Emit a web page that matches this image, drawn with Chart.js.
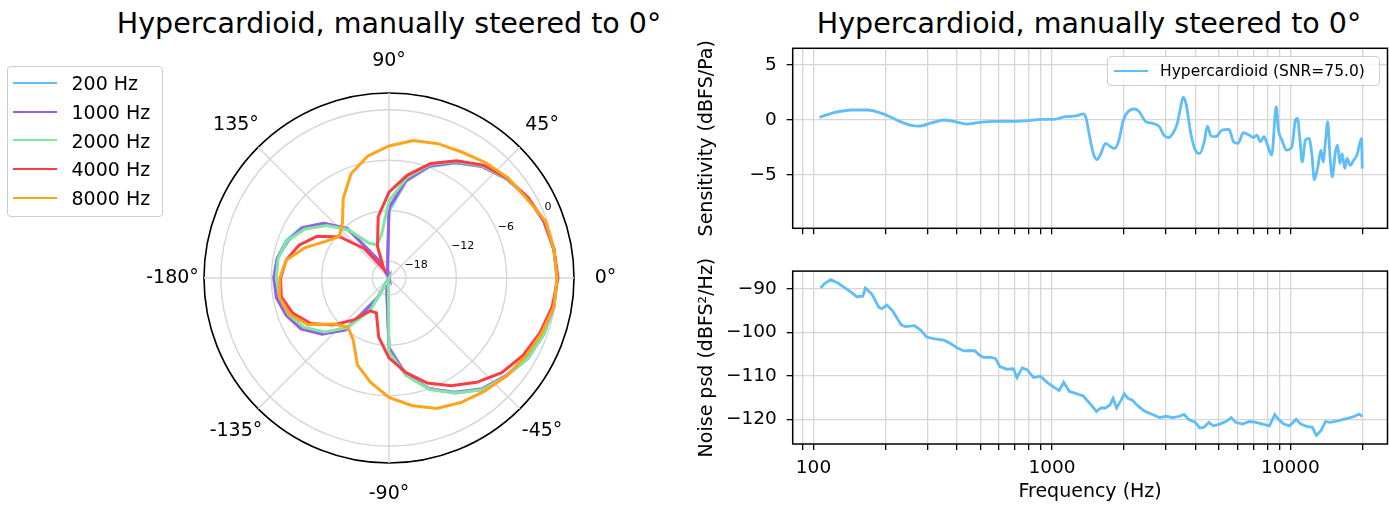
<!DOCTYPE html>
<html>
<head>
<meta charset="utf-8">
<script src="https://cdn.jsdelivr.net/npm/chart.js@4.4.1/dist/chart.umd.min.js"></script>
<style>
  body { margin: 0; background: #fff; font-family: 'DejaVu Sans', sans-serif; }
  #page { position: relative; width: 1389px; height: 505px; overflow: hidden; }
  canvas { position: absolute; }
  .title { position: absolute; top: 7px; font-size: 28.5px; line-height: 34px; white-space: nowrap; transform: translateX(-50%); color: #000; }
  .legend { position: absolute; background: rgba(255,255,255,0.8); border: 1px solid #cccccc; border-radius: 4px; box-sizing: border-box; z-index: 2; }
  .legend .swatch { position: absolute; height: 0; border-top-style: solid; }
  .legend .text { position: absolute; white-space: nowrap; color: #000; }
</style>
</head>
<body>
<div id="page">
  <div class="title" style="left:389px">Hypercardioid, manually steered to 0°</div>
  <div class="title" style="left:1089px">Hypercardioid, manually steered to 0°</div>
  <canvas id="polar" width="690" height="505" style="left:0;top:0"></canvas>
  <canvas id="sens" width="699" height="250" style="left:690px;top:0"></canvas>
  <canvas id="noise" width="699" height="255" style="left:690px;top:250px"></canvas>
  <div id="polarLegend" class="legend" style="left:7px;top:66px;width:156px;height:151px"></div>
  <div id="sensLegend" class="legend" style="left:1107px;top:56px;width:273px;height:30px"></div>
</div>
<script>
// ---- polar response, dB, at angles 0..350 deg (counter-clockwise) ----
const polarAngles = [0,10,20,30,40,50,60,70,80,90,100,110,120,130,140,150,160,170,
                     180,190,200,210,220,230,240,250,260,270,280,290,300,310,320,330,340,350];
const freqLabels = ['200 Hz', '1000 Hz', '2000 Hz', '4000 Hz', '8000 Hz'];
const freqColors = ['#5fbdf7', '#9b5de5', '#80e6a0', '#fa3c46', '#ffa31a'];

const gain200  = [0.0,-0.1,-0.4,-0.9,-1.7,-2.7,-4.2,-5.9,-8.3,-12.0,-18.8,-20,-17.8,-12.6,-9.9,-8.0,-7.0,-6.5,
                  -6.3,-6.5,-7.0,-8.0,-9.8,-12.3,-17.5,-20,-18.5,-11.8,-8.3,-5.9,-4.2,-2.7,-1.8,-0.9,-0.4,-0.1];
const gain1000 = [0.0,-0.1,-0.4,-0.9,-1.7,-2.7,-4.1,-5.8,-8.2,-11.6,-19.0,-20,-17.5,-12.3,-9.9,-8.1,-7.2,-6.5,
                  -6.3,-6.4,-7.0,-7.9,-9.6,-11.9,-17.0,-20,-18.5,-11.6,-8.3,-6.0,-4.3,-2.8,-1.9,-1.0,-0.45,-0.1];
const gain2000 = [0.0,-0.1,-0.35,-0.9,-1.7,-2.6,-4.0,-5.6,-7.9,-10.8,-14.8,-15.8,-15.2,-12.5,-10.3,-8.4,-7.1,-6.6,
                  -6.6,-6.8,-7.3,-8.3,-10.0,-12.3,-15.5,-20,-19.5,-11.2,-8.2,-5.9,-4.2,-2.7,-1.8,-0.95,-0.4,-0.1];
const gain4000 = [0.1,-0.1,-0.35,-0.9,-1.6,-2.5,-3.9,-5.5,-7.6,-9.8,-12.6,-16.0,-18.8,-15.4,-12.4,-10.1,-8.6,-7.6,
                  -7.1,-7.0,-7.8,-9.2,-11.3,-13.5,-15.5,-15.6,-12.9,-10.5,-8.6,-6.7,-5.2,-3.8,-2.5,-1.6,-0.9,-0.3];
const gain8000 = [0.0,-0.1,-0.2,-1.1,-1.5,-2.1,-2.7,-3.0,-3.4,-4.3,-5.3,-6.8,-9.1,-11.4,-12.3,-11.3,-9.4,-7.6,
                  -7.0,-6.8,-7.4,-8.9,-11.5,-12.4,-11.5,-9.0,-7.4,-5.8,-4.6,-3.5,-2.9,-2.4,-1.8,-1.3,-0.7,-0.1];
const polarSeries = [gain200, gain1000, gain2000, gain4000, gain8000];

const rTicks = [-18, -12, -6, 0];
const angleTicks = [0, 45, 90, 135, 180, 225, 270, 315];
const angleTickText = ['0°', '45°', '90°', '135°', '-180°', '-135°', '-90°', '-45°'];

// ---- sensitivity vs frequency ----
const sensFreq = [106,122,145,168,196,223,254,277,315,352,392,437,487,579,689,819,893,1018,1135,1265,
                  1350,1390,1439,1490,1543,1603,1675,1750,1828,1909,1993,2128,2223,2319,2475,2641,2820,2944,3075,3212,
                  3353,3456,3548,3657,3820,3990,4166,4350,4484,4644,4850,5176,5525,5769,6025,6346,6709,7008,7227,7483,
                  7747,7988,8343,8714,8899,9212,9622,10135,10491,10686,10963,11200,11546,11950,12310,12580,13020,13420,13710,14020,
                  14330,14650,14970,15430,15770,16110,16470,16890,17270,17800,18400,18990,19860,20000];
const sensDb = [0.24,0.67,0.91,0.91,0.55,0.0,-0.46,-0.55,-0.24,0.0,-0.15,-0.37,-0.24,-0.12,-0.12,-0.03,0.06,0.06,0.3,0.37,
                0.55,0.15,-1.52,-3.05,-3.6,-3.05,-2.13,-2.38,-2.6,-1.83,0.0,0.91,1.0,0.76,-0.15,-0.3,-0.61,-1.37,-1.59,-1.22,
                -0.3,1.07,2.07,1.37,-1.22,-2.74,-3.05,-1.98,-0.55,-1.46,-1.52,-0.91,-0.85,-1.98,-2.13,-1.16,-1.37,-1.59,-1.37,-1.98,
                -1.52,-2.2,-3.2,1.22,-0.91,-1.83,-2.74,-2.44,0.0,0.15,-1.83,-3.81,-1.83,-1.68,-3.2,-5.43,-4.27,-2.74,-3.81,-1.98,
                -0.15,-3.35,-5.18,-2.9,-2.29,-3.96,-3.05,-4.42,-3.5,-4.12,-3.66,-3.2,-1.68,-4.42];

// ---- noise psd vs frequency ----
const noiseFreq = [107,111,118,127,136,145,152,161,165,176,188,194,203,214,233,243,265,283,298,322,
                   352,375,401,428,456,476,497,520,550,579,605,646,689,713,751,785,838,894,954,1018,
                   1072,1119,1183,1264,1349,1439,1536,1603,1675,1750,1804,1866,1950,2010,2080,2173,2270,2423,2530,2642,
                   2820,3009,3213,3428,3580,3737,3990,4168,4350,4540,4742,5060,5404,5641,5890,6294,6717,7165,7645,8160,
                   8600,8895,9370,9910,10570,11040,11800,12320,12850,13420,14030,14650,15640,16690,17800,18580,19400,20000];
const noiseDb = [-89.85,-88.9,-87.9,-88.75,-89.85,-90.96,-91.84,-91.7,-89.85,-91.3,-94.3,-94.6,-93.75,-95.0,-98.3,-98.7,-98.5,-99.6,-101.1,-101.5,
                 -101.8,-102.6,-103.6,-104.3,-104.2,-104.3,-105.3,-105.8,-105.7,-106.0,-107.9,-108.5,-108.4,-110.4,-108.2,-108.6,-110.4,-110.1,-111.5,-112.6,
                 -113.4,-111.5,-113.6,-114.1,-114.6,-116.3,-118.2,-117.4,-117.4,-116.7,-115.2,-117.4,-115.6,-114.1,-115.2,-115.6,-116.7,-118.0,-118.5,-118.9,
                 -119.6,-119.3,-119.6,-119.3,-118.9,-120.0,-120.7,-122.0,-121.8,-120.7,-121.5,-121.1,-120.4,-119.6,-120.7,-121.1,-120.5,-120.7,-121.1,-121.5,
                 -118.9,-120.0,-121.1,-121.5,-120.0,-121.1,-121.7,-121.8,-123.7,-122.6,-120.5,-120.7,-120.4,-120.0,-119.6,-119.3,-118.8,-119.3];

const freqTicks = [90,100,200,300,400,500,600,700,800,900,1000,2000,3000,4000,5000,6000,7000,8000,9000,10000,20000];
const freqLabelTicks = [100, 1000, 10000];
const sensTicks = [-5, 0, 5];
const noiseTicks = [-120, -110, -100, -90];
const lineColor = '#5fbdf7';

Chart.defaults.font.family = "'DejaVu Sans', sans-serif";
Chart.defaults.color = '#000';
Chart.defaults.animation = false;
Chart.defaults.events = [];

const gridColor = '#d6d6d6';
const fmt = v => (v < 0 ? '\u2212' + Math.abs(v) : String(v));

// radar labels every 5 deg, going clockwise from east (matplotlib angle = -index*5)
const labelStep = 5;
const radarLabels = [];
for (let i = 0; i < 360 / labelStep; i++) radarLabels.push((360 - i * labelStep) % 360);
function toRadar(values) {
  return radarLabels.map(a => {
    const k = polarAngles.indexOf(a);
    return k >= 0 ? values[k] : null;
  });
}

const polarText = {
  id: 'polarText',
  afterDraw(chart) {
    const s = chart.scales.r;
    const ctx = chart.ctx;
    ctx.save();
    ctx.fillStyle = '#000';
    ctx.font = "19px 'DejaVu Sans'";
    ctx.textAlign = 'center';
    ctx.textBaseline = 'middle';
    angleTicks.forEach((a, k) => {
      const p = s.getPointPosition(radarLabels.indexOf(a), s.drawingArea * 1.17);
      ctx.fillText(angleTickText[k], p.x, p.y);
    });
    ctx.font = "11px 'DejaVu Sans'";
    ctx.textAlign = 'left';
    const rad = 22.5 * Math.PI / 180;
    rTicks.forEach(v => {
      const d = s.getDistanceFromCenterForValue(v);
      ctx.fillText(fmt(v), s.xCenter + d * Math.cos(rad), s.yCenter - d * Math.sin(rad) - 6);
    });
    ctx.restore();
  }
};

const frame = {
  id: 'frame',
  afterDatasetsDraw(chart) {
    const {ctx, chartArea: a} = chart;
    ctx.save();
    ctx.strokeStyle = '#000';
    ctx.lineWidth = 1.5;
    ctx.strokeRect(a.left, a.top, a.right - a.left, a.bottom - a.top);
    ctx.restore();
  }
};

function htmlLegend(el, chart, opts) {
  chart.data.datasets.forEach((ds, i) => {
    const y = opts.first + i * opts.step;
    const sw = document.createElement('div');
    sw.className = 'swatch';
    sw.style.left = opts.swLeft + 'px';
    sw.style.width = opts.swWidth + 'px';
    sw.style.top = (y - 1.4) + 'px';
    sw.style.borderTopWidth = '2.8px';
    sw.style.borderTopColor = ds.borderColor;
    const tx = document.createElement('div');
    tx.className = 'text';
    tx.style.left = opts.textLeft + 'px';
    tx.style.fontSize = opts.font + 'px';
    tx.style.lineHeight = '24px';
    tx.style.top = (y - 12) + 'px';
    tx.textContent = ds.label;
    el.appendChild(sw);
    el.appendChild(tx);
  });
}

const polarChart = new Chart(document.getElementById('polar'), {
  type: 'radar',
  data: {
    labels: radarLabels,
    datasets: freqLabels.map((label, i) => ({
      label: label,
      data: toRadar(polarSeries[i]),
      borderColor: freqColors[i],
      backgroundColor: 'transparent',
      borderWidth: 3,
      fill: false,
      spanGaps: true,
      order: freqLabels.length - i
    }))
  },
  options: {
    responsive: false,
    layout: { padding: { left: 203.5, right: 114.5, top: 93, bottom: 40.5 } },
    elements: { point: { radius: 0 }, line: { tension: 0 } },
    plugins: { legend: { display: false }, tooltip: { enabled: false } },
    scales: {
      r: {
        min: -20,
        max: 2,
        startAngle: 90,
        afterBuildTicks: s => { s.ticks = [-20, ...rTicks, 2].map(v => ({ value: v })); },
        ticks: { display: false },
        pointLabels: { display: false },
        grid: {
          circular: true,
          color: c => c.tick.value === 2 ? '#000' : (c.tick.value === -20 ? 'rgba(0,0,0,0)' : gridColor),
          lineWidth: c => c.tick.value === 2 ? 1.6 : 1.4
        },
        angleLines: {
          color: gridColor,
          lineWidth: c => (c.index * labelStep) % 45 === 0 ? 1.4 : 0
        }
      }
    }
  },
  plugins: [polarText]
});

function freqAxis(showLabels, height) {
  return {
    type: 'logarithmic',
    min: 81.8,
    max: 25520,
    afterBuildTicks: s => { s.ticks = freqTicks.map(v => ({ value: v })); },
    afterFit: s => { s.height = height; },
    ticks: {
      display: showLabels,
      autoSkip: false,
      maxRotation: 0,
      padding: 7,
      font: { size: 18.5 },
      callback: v => freqLabelTicks.includes(v) ? String(v) : ''
    },
    grid: { color: gridColor, lineWidth: 1.3, tickColor: '#000', tickLength: 6, tickWidth: 1.3 },
    border: { display: false },
    title: showLabels ? { display: true, text: 'Frequency (Hz)', font: { size: 19 }, padding: { top: 0, bottom: 2 } } : { display: false }
  };
}

function valueAxis(min, max, ticks, title) {
  return {
    min: min,
    max: max,
    afterBuildTicks: s => { s.ticks = ticks.map(v => ({ value: v })); },
    afterFit: s => { s.width = 102.7; },
    ticks: { padding: 10, font: { size: 18.5 }, callback: fmt },
    grid: { color: gridColor, lineWidth: 1.3, tickColor: '#000', tickLength: 6, tickWidth: 1.3 },
    border: { display: false },
    title: { display: true, text: title, font: { size: 19 }, padding: { top: 5.6, bottom: 0 } }
  };
}

const sensChart = new Chart(document.getElementById('sens'), {
  type: 'line',
  data: {
    datasets: [{
      label: 'Hypercardioid (SNR=75.0)',
      data: sensFreq.map((f, i) => ({ x: f, y: sensDb[i] })),
      borderColor: lineColor,
      borderWidth: 2.8,
      pointRadius: 0,
      cubicInterpolationMode: 'monotone'
    }]
  },
  options: {
    responsive: false,
    layout: { padding: { top: 48.3, right: 1.5, left: 0, bottom: 0 } },
    plugins: { legend: { display: false }, tooltip: { enabled: false } },
    scales: {
      x: freqAxis(false, 21.7),
      y: valueAxis(-9.85, 6.52, sensTicks, 'Sensitivity (dBFS/Pa)')
    }
  },
  plugins: [frame]
});

const noiseChart = new Chart(document.getElementById('noise'), {
  type: 'line',
  data: {
    datasets: [{
      label: 'Noise psd',
      data: noiseFreq.map((f, i) => ({ x: f, y: noiseDb[i] })),
      borderColor: lineColor,
      borderWidth: 2.8,
      pointRadius: 0,
      tension: 0
    }]
  },
  options: {
    responsive: false,
    layout: { padding: { top: 14, right: 1.5, left: 0, bottom: 0 } },
    plugins: { legend: { display: false }, tooltip: { enabled: false } },
    scales: {
      x: freqAxis(true, 61),
      y: valueAxis(-125.67, -85.96, noiseTicks, 'Noise psd (dBFS\u00b2/Hz)')
    }
  },
  plugins: [frame]
});

htmlLegend(document.getElementById('polarLegend'), polarChart,
  { first: 16.3, step: 28.7, swLeft: 5, swWidth: 44, textLeft: 63.5, font: 19 });
htmlLegend(document.getElementById('sensLegend'), sensChart,
  { first: 14, step: 0, swLeft: 6, swWidth: 34, textLeft: 52, font: 15.5 });
</script>
</body>
</html>
